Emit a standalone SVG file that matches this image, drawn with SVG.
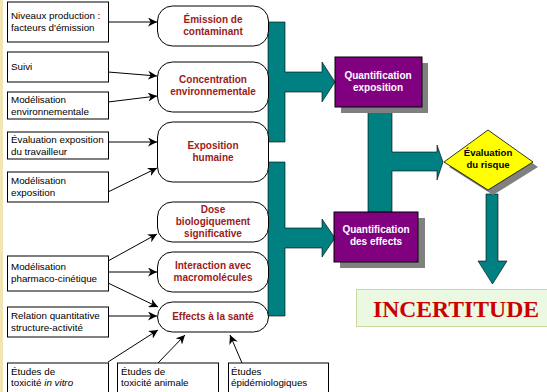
<svg xmlns="http://www.w3.org/2000/svg" width="547" height="392" viewBox="0 0 547 392">
  <defs>
    <marker id="ah" viewBox="0 0 10 10" refX="10" refY="5" markerWidth="9" markerHeight="9" markerUnits="userSpaceOnUse" orient="auto">
      <path d="M0,0 L10,5 L0,10 L3,5 Z" fill="#000"/>
    </marker>
  </defs>
  <style>
    .src { fill: #fff; stroke: #000; stroke-width: 1; }
    .src-t { font-family: "Liberation Sans", Arial, sans-serif; font-size: 9.8px; fill: #000; }
    .stage { fill: #fff; stroke: #000; stroke-width: 1; }
    .stage-t { font-family: "Liberation Sans", Arial, sans-serif; font-size: 10px; font-weight: bold; fill: #9b1b1b; text-anchor: middle; }
    .flow { fill: #008080; stroke: #000; stroke-width: 0.6; }
    .quant { fill: #800080; stroke: #000; stroke-width: 1; }
    .quant-t { font-family: "Liberation Sans", Arial, sans-serif; font-size: 10px; font-weight: bold; fill: #fff; text-anchor: middle; }
    .risk-t { font-family: "Liberation Sans", Arial, sans-serif; font-size: 9.6px; font-weight: bold; fill: #000; text-anchor: middle; }
    .shadow { fill: #808080; }
    .link { stroke: #000; stroke-width: 1; fill: none; marker-end: url(#ah); }
  </style>

  <rect width="547" height="392" fill="#fff"/>
  <!-- page edge -->
  <rect x="0" y="0" width="3" height="392" fill="#f3e4b4"/>

  <!-- thick flow arrows -->
  <g id="flows">
    <path class="flow" d="M268,22 H285 V72 H322 V62 L335,82 L322,102 V92 H285 V142 H268 Z"/>
    <path class="flow" d="M268,162 H285 V228 H322 V219 L335,238 L322,257 V248 H285 V316 H268 Z"/>
    <path class="flow" d="M368,107 H392 V152 H437 V145 L443,162 L437,180 V171 H392 V212 H368 Z"/>
    <path class="flow" d="M486,194 H498 V261 H507 L492.5,284 L478,261 H486 Z"/>
  </g>

  <!-- thin connectors -->
  <g id="connectors">
    <line class="link" x1="108" y1="22" x2="157" y2="22"/>
    <line class="link" x1="108" y1="72" x2="157" y2="76"/>
    <line class="link" x1="108" y1="102" x2="157" y2="96"/>
    <line class="link" x1="108" y1="142" x2="157" y2="142"/>
    <line class="link" x1="108" y1="192" x2="157" y2="168"/>
    <line class="link" x1="108" y1="261" x2="157" y2="234"/>
    <line class="link" x1="108" y1="272" x2="157" y2="272"/>
    <line class="link" x1="108" y1="283" x2="158" y2="307"/>
    <line class="link" x1="108" y1="316" x2="157" y2="316"/>
    <line class="link" x1="108" y1="362" x2="158" y2="330"/>
    <line class="link" x1="158" y1="363" x2="185" y2="335"/>
    <line class="link" x1="242" y1="363" x2="230" y2="335"/>
  </g>

  <!-- input boxes -->
  <g id="niveaux">
    <rect class="src" x="7.5" y="2" width="101" height="40"/>
    <text class="src-t" x="11" y="19">Niveaux production :</text>
    <text class="src-t" x="11" y="30.5">facteurs d'émission</text>
  </g>
  <g id="suivi">
    <rect class="src" x="7.5" y="52" width="101" height="30"/>
    <text class="src-t" x="11" y="70">Suivi</text>
  </g>
  <g id="modelisation-env">
    <rect class="src" x="7.5" y="92" width="101" height="27"/>
    <text class="src-t" x="11" y="103">Modélisation</text>
    <text class="src-t" x="11" y="115">environnementale</text>
  </g>
  <g id="evaluation-travailleur">
    <rect class="src" x="7.5" y="132" width="101" height="27"/>
    <text class="src-t" x="11" y="143">Évaluation exposition</text>
    <text class="src-t" x="11" y="155">du travailleur</text>
  </g>
  <g id="modelisation-expo">
    <rect class="src" x="7.5" y="172" width="101" height="30"/>
    <text class="src-t" x="11" y="184">Modélisation</text>
    <text class="src-t" x="11" y="196">exposition</text>
  </g>
  <g id="pharmaco">
    <rect class="src" x="7.5" y="256" width="101" height="35"/>
    <text class="src-t" x="11" y="270">Modélisation</text>
    <text class="src-t" x="11" y="282">pharmaco-cinétique</text>
  </g>
  <g id="relation">
    <rect class="src" x="7.5" y="307" width="101" height="30"/>
    <text class="src-t" x="11" y="319">Relation quantitative</text>
    <text class="src-t" x="11" y="330.5">structure-activité</text>
  </g>
  <g id="in-vitro">
    <rect class="src" x="7.5" y="363" width="101" height="34"/>
    <text class="src-t" x="11" y="374.5">Études de</text>
    <text class="src-t" x="11" y="386">toxicité <tspan font-style="italic">in vitro</tspan></text>
  </g>
  <g id="animale">
    <rect class="src" x="117.5" y="363" width="101" height="34"/>
    <text class="src-t" x="121" y="374.5">Études de</text>
    <text class="src-t" x="121" y="386">toxicité animale</text>
  </g>
  <g id="epidemio">
    <rect class="src" x="228.5" y="363" width="100" height="34"/>
    <text class="src-t" x="231" y="374.5">Études</text>
    <text class="src-t" x="231" y="386">épidémiologiques</text>
  </g>

  <!-- stage nodes -->
  <g id="emission">
    <rect class="stage" x="157.5" y="6" width="111" height="40" rx="15"/>
    <text class="stage-t" x="213" y="23">Émission de</text>
    <text class="stage-t" x="213" y="35">contaminant</text>
  </g>
  <g id="concentration">
    <rect class="stage" x="157.5" y="62" width="111" height="50" rx="15"/>
    <text class="stage-t" x="213" y="83">Concentration</text>
    <text class="stage-t" x="213" y="95">environnementale</text>
  </g>
  <g id="exposition">
    <rect class="stage" x="157.5" y="122" width="111" height="60" rx="15"/>
    <text class="stage-t" x="213" y="149">Exposition</text>
    <text class="stage-t" x="213" y="161">humaine</text>
  </g>
  <g id="dose">
    <rect class="stage" x="157.5" y="202" width="111" height="40" rx="15"/>
    <text class="stage-t" x="213" y="213">Dose</text>
    <text class="stage-t" x="213" y="225">biologiquement</text>
    <text class="stage-t" x="213" y="236.5">significative</text>
  </g>
  <g id="interaction">
    <rect class="stage" x="157.5" y="252" width="111" height="40" rx="15"/>
    <text class="stage-t" x="213" y="269">Interaction avec</text>
    <text class="stage-t" x="213" y="281">macromolécules</text>
  </g>
  <g id="effets">
    <rect class="stage" x="157.5" y="302" width="111" height="30" rx="15"/>
    <text class="stage-t" x="213" y="320">Effects à la santé</text>
  </g>

  <!-- quantification boxes -->
  <g id="quant-exposition">
    <rect class="shadow" x="341" y="63" width="87" height="50"/>
    <rect class="quant" x="335" y="57" width="87" height="50"/>
    <text class="quant-t" x="378" y="79">Quantification</text>
    <text class="quant-t" x="378" y="91">exposition</text>
  </g>
  <g id="quant-effets">
    <rect class="shadow" x="340" y="218" width="85" height="50"/>
    <rect class="quant" x="334" y="212" width="84" height="50"/>
    <text class="quant-t" x="376" y="233">Quantification</text>
    <text class="quant-t" x="376" y="245">des effects</text>
  </g>

  <!-- risk decision -->
  <g id="evaluation-risque">
    <path class="shadow" d="M449,167 L493,135 L538,167 L493,195 Z"/>
    <path d="M444,162 L488,130 L533,162 L488,190 Z" fill="#ffff00" stroke="#000" stroke-width="0.8"/>
    <text class="risk-t" x="488" y="156">Évaluation</text>
    <text class="risk-t" x="488" y="167.5">du risque</text>
  </g>

  <!-- uncertainty banner -->
  <g id="incertitude">
    <rect x="356.5" y="289.5" width="195" height="37" fill="#ecf9e2" stroke="#c9d89c" stroke-width="1"/>
    <text x="456" y="317" font-family="'Liberation Serif', 'Times New Roman', serif" font-size="24" font-weight="bold" fill="#cc0000" text-anchor="middle" textLength="166" lengthAdjust="spacingAndGlyphs">INCERTITUDE</text>
  </g>
</svg>
